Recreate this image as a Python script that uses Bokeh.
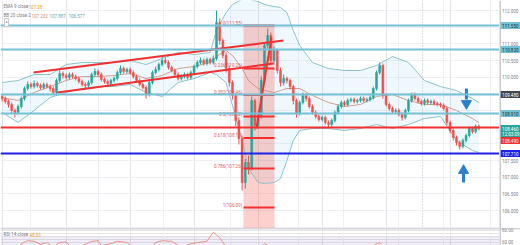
import numpy as np
from bokeh.plotting import figure
from bokeh.models import (Range1d, FixedTicker, Label, Span, BoxAnnotation,
                          ColumnDataSource, Grid)
from bokeh.layouts import column, row
from bokeh.core.properties import value
from bokeh.embed import file_html
from bokeh.resources import INLINE

FONT = "Roboto"
UP, DN = "#26a69a", "#ef5350"

# ---------------- candles (price) ----------------
first_open = 109.42
closes = [109.36, 109.27, 109.18, 109.00, 108.94, 109.12, 109.36, 109.66, 109.78, 109.72,
          109.81, 109.75, 109.69, 109.78, 109.72, 109.66, 109.54, 109.90, 110.11, 110.05,
          109.99, 110.08, 110.02, 109.96, 109.87, 109.78, 109.75, 109.84, 110.08, 110.17,
          110.08, 109.93, 109.87, 109.81, 109.90, 109.96, 110.14, 110.26, 110.17, 110.23,
          110.14, 110.02, 109.90, 109.78, 109.69, 109.48, 109.84, 110.14, 110.23, 110.38,
          110.50, 110.44, 110.29, 110.20, 110.08, 109.96, 110.02, 110.08, 109.99, 110.14,
          110.32, 110.44, 110.50, 110.41, 110.53, 110.44, 110.56, 111.64, 111.10, 110.65,
          110.26, 109.84, 109.45, 108.70, 108.16, 106.84, 107.44, 107.26, 109.30, 108.55,
          108.85, 109.90, 110.95, 111.25, 110.50, 110.80, 110.20, 109.84, 109.96, 109.90,
          109.72, 109.30, 108.91, 109.24, 109.45, 109.36, 109.12, 108.94, 108.82, 108.73,
          108.79, 108.64, 108.58, 108.70, 108.94, 109.12, 109.24, 109.18, 109.30, 109.33,
          109.27, 109.30, 109.36, 109.30, 109.33, 109.39, 109.66, 110.14, 110.35, 109.45,
          109.18, 109.06, 108.97, 109.00, 108.88, 108.79, 109.00, 109.30, 109.48, 109.36,
          109.27, 109.21, 109.30, 109.24, 109.27, 109.21, 109.18, 109.15, 109.06, 108.64,
          108.40, 108.19, 108.04, 107.92, 108.10, 108.25, 108.46, 108.37, 108.52, 108.46]
highs = [109.48, 109.42, 109.33, 109.24, 109.06, 109.18, 109.42, 109.72, 109.87, 109.84,
         109.90, 109.87, 109.81, 109.84, 109.84, 109.78, 109.72, 109.96, 110.20, 110.17,
         110.11, 110.14, 110.14, 110.08, 110.02, 109.93, 109.84, 109.90, 110.14, 110.26,
         110.23, 110.14, 109.99, 109.93, 109.96, 110.02, 110.20, 110.35, 110.32, 110.29,
         110.29, 110.20, 110.08, 109.96, 109.84, 109.75, 109.90, 110.20, 110.32, 110.44,
         110.62, 110.59, 110.50, 110.35, 110.26, 110.14, 110.08, 110.14, 110.14, 110.20,
         110.38, 110.50, 110.59, 110.56, 110.59, 110.59, 110.65, 112.00, 111.76, 111.16,
         110.74, 110.35, 109.90, 109.51, 108.79, 108.25, 107.56, 107.65, 109.42, 109.36,
         109.00, 110.02, 111.04, 111.46, 111.34, 110.92, 110.86, 110.29, 110.08, 110.02,
         109.96, 109.78, 109.36, 109.30, 109.54, 109.51, 109.42, 109.18, 109.00, 108.88,
         108.85, 108.85, 108.70, 108.76, 109.00, 109.18, 109.30, 109.30, 109.36, 109.39,
         109.39, 109.36, 109.42, 109.42, 109.39, 109.45, 109.72, 110.20, 110.44, 110.41,
         109.51, 109.24, 109.12, 109.06, 109.06, 108.94, 109.06, 109.36, 109.54, 109.54,
         109.42, 109.33, 109.36, 109.36, 109.33, 109.33, 109.27, 109.24, 109.21, 109.12,
         108.70, 108.46, 108.25, 108.10, 108.16, 108.31, 108.52, 108.52, 108.58, 108.58]
lows = [109.27, 109.21, 109.09, 108.91, 108.79, 108.88, 109.06, 109.30, 109.60, 109.66,
        109.66, 109.69, 109.63, 109.63, 109.66, 109.57, 109.48, 109.48, 109.84, 109.96,
        109.93, 109.93, 109.96, 109.90, 109.81, 109.72, 109.66, 109.69, 109.78, 110.02,
        110.02, 109.87, 109.81, 109.75, 109.75, 109.84, 109.90, 110.08, 110.11, 110.11,
        110.08, 109.96, 109.84, 109.72, 109.63, 109.36, 109.42, 109.78, 110.08, 110.17,
        110.32, 110.38, 110.23, 110.14, 109.99, 109.90, 109.90, 109.96, 109.93, 109.93,
        110.08, 110.26, 110.38, 110.35, 110.35, 110.38, 110.38, 110.50, 110.98, 110.56,
        110.14, 109.72, 109.33, 108.52, 107.98, 106.60, 106.66, 107.08, 107.20, 108.40,
        108.46, 108.76, 109.81, 110.86, 110.41, 110.38, 110.11, 109.72, 109.75, 109.81,
        109.63, 109.18, 108.79, 108.85, 109.18, 109.27, 109.06, 108.88, 108.76, 108.67,
        108.67, 108.58, 108.49, 108.52, 108.64, 108.88, 109.06, 109.12, 109.12, 109.24,
        109.21, 109.21, 109.24, 109.24, 109.24, 109.27, 109.33, 109.60, 110.08, 109.36,
        109.12, 109.00, 108.91, 108.91, 108.82, 108.70, 108.73, 108.94, 109.24, 109.30,
        109.21, 109.15, 109.15, 109.18, 109.18, 109.15, 109.12, 109.09, 109.00, 108.55,
        108.31, 108.10, 107.95, 107.83, 107.86, 108.04, 108.19, 108.31, 108.31, 108.40]

# ---------------- Bollinger bands ----------------
bb_idx = [0, 5, 10, 15, 20, 25, 30, 35, 40, 45, 50, 55, 60, 65, 67, 70, 72, 75, 77, 80,
          82, 85, 87, 89, 91, 93, 97, 102, 107, 112, 117, 122, 127, 132, 137, 142, 147, 149]
bb_upper = [109.84, 109.90, 110.08, 110.08, 110.38, 110.44, 110.44, 110.44, 110.50, 110.38,
            110.56, 110.74, 110.68, 110.74, 111.40, 111.94, 112.18, 112.34, 112.34, 112.27,
            112.18, 112.12, 112.09, 111.94, 111.40, 110.95, 110.44, 110.26, 110.20, 110.20,
            110.35, 110.62, 110.44, 109.90, 109.72, 109.60, 109.36, 109.24]
bb_basis = [109.39, 109.30, 109.54, 109.72, 109.90, 110.02, 110.02, 110.05, 110.11, 109.96,
            110.05, 110.26, 110.32, 110.44, 110.62, 110.80, 110.65, 110.26, 109.90, 109.66,
            109.60, 109.54, 109.60, 109.66, 109.66, 109.66, 109.45, 109.24, 109.12, 109.18,
            109.42, 109.48, 109.30, 109.18, 109.18, 109.00, 108.76, 108.64]
bb_lower = [108.94, 108.64, 109.00, 109.39, 109.54, 109.66, 109.72, 109.72, 109.78, 109.54,
            109.42, 109.84, 109.96, 110.14, 110.08, 109.84, 109.15, 108.10, 107.26, 106.84,
            106.81, 106.84, 106.96, 107.50, 108.10, 108.40, 108.46, 108.46, 108.40, 108.46,
            108.58, 108.46, 108.58, 108.76, 108.82, 108.10, 107.80, 107.74]

# ---------------- RSI ----------------
rsi_idx = [0, 3, 6, 8, 10, 12, 14, 16, 18, 20, 21, 24, 28, 30, 31, 34, 36, 39, 41, 45,
           48, 50, 53, 56, 59, 61, 64, 66, 68, 71, 74, 77, 80, 82, 85, 90, 96, 103, 107, 112,
           115, 118, 120, 124, 129, 134, 139, 143, 146, 149]
rsi_vals = [50, 40, 58, 63, 62, 57, 60, 52, 60, 61, 55, 52, 62, 63, 55, 58, 62, 60, 52, 38,
            60, 63, 62, 52, 58, 60, 62, 77, 68, 45, 25, 30, 48, 58, 50, 44, 36, 34, 45, 48,
            52, 60, 45, 40, 50, 48, 42, 30, 42, 49]
rsi_ticks = [60, 80]

# ---------------- drawings ----------------
hline_prices = [111.55, 110.83, 109.48, 108.91, 108.49, 107.71]
hline_colors = ["#74c0d4", "#74c0d4", "#74c0d4", "#74c0d4", "#f23030", "#2121e8"]

chan_x0 = [9.81, 17.31, 79.5]
chan_y0 = [110.14, 109.54, 108.46]
chan_x1 = [87.94, 84.81, 84.19]
chan_y1 = [111.10, 110.41, 111.19]

fib_left, fib_right = 75.44, 85.13
fib_high, fib_low = 111.55, 106.09
fib_ratios = [0, 0.236, 0.382, 0.5, 0.618, 0.786, 1]
zone_bottom = 105.0

arrow_x = [145.1, 144.2]
arrow_head_y = [109.21, 107.20]
arrow_tail_y0 = [109.66, 107.12]
arrow_tail_y1 = [109.33, 106.84]
arrow_marker = ["inverted_triangle", "triangle"]

tick_values = [106.0, 106.5, 107.0, 107.5, 110.0, 110.5, 111.0, 112.0]
grid_values = [105.5, 106.0, 106.5, 107.0, 107.5, 108.0, 108.5, 109.0, 109.5, 110.0,
               110.5, 111.0, 111.5, 112.0]
vgrid = [8.9, 30.1, 50.4, 71.4, 92.6, 106.7, 123.9, 137.9, 152.6]
session_break = 131.4

tag_prices = [111.55, 110.83, 109.48, 108.91, 108.46, 108.28, 108.10, 107.71]
tag_texts = ["111.550", "110.830", "109.480", "108.910", "108.460", "12:03:09", "108.490", "107.710"]
tag_bg = ["#74c0d4", "#74c0d4", "#434651", "#74c0d4", "#26a69a", "#26a69a", "#f23030", "#2121e8"]
tag_fg = ["#0b3b45", "#0b3b45", "#ffffff", "#0b3b45", "#ffffff", "#ffffff", "#ffffff", "#ffffff"]

Y_RANGE = (105.46, 112.3)
RSI_RANGE = (55, 83.33)

# ---------------- main price panel ----------------
N = len(closes)
x = list(range(N))
opens = [first_open] + closes[:-1]
colors = [UP if c >= o else DN for o, c in zip(opens, closes)]
src = ColumnDataSource(dict(x=x, h=highs, l=lows,
                            top=[max(o, c) for o, c in zip(opens, closes)],
                            bot=[min(o, c) for o, c in zip(opens, closes)],
                            color=colors))

xr = Range1d(-0.5, 155.44)
yr = Range1d(*Y_RANGE)
p = figure(width=499, height=228, x_range=xr, y_range=yr,
           output_backend="svg", toolbar_location=None,
           x_axis_location=None, y_axis_location=None,
           min_border_left=0, min_border_right=0, min_border_top=0, min_border_bottom=0)
p.outline_line_color = None
p.add_layout(Grid(dimension=0, ticker=FixedTicker(ticks=vgrid), grid_line_color="#eef0f5"))
p.add_layout(Grid(dimension=1, ticker=FixedTicker(ticks=grid_values), grid_line_color="#eef0f5"))

# Bollinger fill + fib zone
p.varea(x=bb_idx, y1=bb_lower, y2=bb_upper, fill_color="#2196f3", fill_alpha=0.07)
p.quad(left=[fib_left], right=[fib_right], top=[fib_high], bottom=[zone_bottom],
       fill_color="#f44336", fill_alpha=0.25, line_color=None)
p.line(bb_idx, bb_upper, line_color="#8cc3cc", line_width=1)
p.line(bb_idx, bb_lower, line_color="#8cc3cc", line_width=1)
p.line(bb_idx, bb_basis, line_color="#c98a6e", line_width=1, line_alpha=0.8)

p.add_layout(Span(location=session_break, dimension="height", line_color="#b8bbc4",
                  line_dash="1 2", line_width=1))

# candles
p.segment("x", "h", "x", "l", color="color", source=src, line_width=1)
p.vbar(x="x", width=0.62, top="top", bottom="bot", fill_color="color", line_color="color",
       line_width=0.5, source=src)

# horizontal lines
for price, col in zip(hline_prices, hline_colors):
    p.add_layout(Span(location=price, dimension="width", line_color=col, line_width=2))

# channel lines
p.segment(chan_x0, chan_y0, chan_x1, chan_y1, line_color="#f23030", line_width=2)

# fib levels
fib_levels = [fib_high - r * (fib_high - fib_low) for r in fib_ratios]
p.segment([fib_left] * len(fib_levels), fib_levels, [fib_right] * len(fib_levels), fib_levels,
          line_color="#f23030", line_width=2)
fib_text = [f"{r:g}({lv:.2f})" for r, lv in zip(fib_ratios, fib_levels)]
p.text([fib_left - 0.4] * len(fib_levels), fib_levels, text=fib_text, text_align="right",
       text_baseline="bottom", text_font=value(FONT), text_font_size=value("4.5px"),
       text_color="#e06060")

# arrows
p.segment(arrow_x, arrow_tail_y0, arrow_x, arrow_tail_y1, line_color="#2a7fd0", line_width=3)
p.scatter(arrow_x, arrow_head_y, marker=arrow_marker, size=10, fill_color="#2a7fd0",
          line_color="#2a7fd0")

# legend texts
legend_items = [
    (3, 222, "EMA 9 close", "#787b86"), (28, 222, "107.38", "#f59a23"),
    (3, 213, "BB 20 close 2", "#787b86"), (31, 213, "107.232", "#c98a6e"),
    (49, 213, "107.887", "#5fa8b0"), (68, 213, "106.577", "#5fa8b0"),
]
for lx, ly, t, c in legend_items:
    p.add_layout(Label(x=lx, y=ly, x_units="screen", y_units="screen", text=t,
                       text_font=FONT, text_font_size="4.5px", text_color=c,
                       text_baseline="middle"))
p.add_layout(Label(x=4, y=206, x_units="screen", y_units="screen", text="^",
                   text_font=FONT, text_font_size="5px", text_color="#555",
                   text_baseline="middle", border_line_color="#c8cad2",
                   background_fill_color="#ffffff", padding=1))

# ---------------- price scale (right) ----------------
ps = figure(width=21, height=228, x_range=Range1d(0, 21), y_range=yr,
            output_backend="svg", toolbar_location=None,
            x_axis_location=None, y_axis_location=None,
            min_border_left=0, min_border_right=0, min_border_top=0, min_border_bottom=0)
ps.outline_line_color = None
ps.grid.visible = False
ps.add_layout(Span(location=0.5, dimension="height", line_color="#9598a1", line_width=1))
ps.text([2.5] * len(tick_values), tick_values, text=[f"{v:.3f}" for v in tick_values],
        text_baseline="middle", text_align="left", text_font=value(FONT),
        text_font_size=value("4.5px"), text_color="#7b7e88")
ps.rect([10.8] * len(tag_prices), tag_prices, width=19.5, height=7,
        width_units="screen", height_units="screen", fill_color=tag_bg, line_color=None)
ps.text([2.6] * len(tag_prices), tag_prices, text=tag_texts, text_baseline="middle",
        text_align="left", text_font=value(FONT), text_font_size=value("4.5px"),
        text_color=tag_fg)

# ---------------- RSI panel ----------------
rr = Range1d(*RSI_RANGE)
r = figure(width=499, height=17, x_range=xr, y_range=rr,
           output_backend="svg", toolbar_location=None,
           x_axis_location=None, y_axis_location=None,
           min_border_left=0, min_border_right=0, min_border_top=0, min_border_bottom=0)
r.outline_line_color = None
r.add_layout(Grid(dimension=0, ticker=FixedTicker(ticks=vgrid), grid_line_color="#eef0f5"))
r.add_layout(BoxAnnotation(bottom=30, top=70, fill_color="#7e57c2", fill_alpha=0.1, line_color=None))
r.line(rsi_idx, rsi_vals, line_color="#ef9a88", line_width=1)
r.add_layout(Span(location=83.0, dimension="width", line_color="#9598a1", line_width=1))
r.add_layout(Label(x=3, y=11, x_units="screen", y_units="screen", text="RSI 14 close",
                   text_font=FONT, text_font_size="4.5px", text_color="#787b86",
                   text_baseline="middle"))
r.add_layout(Label(x=29, y=11, x_units="screen", y_units="screen", text="48.93",
                   text_font=FONT, text_font_size="4.5px", text_color="#f59a23",
                   text_baseline="middle"))

rs = figure(width=21, height=17, x_range=Range1d(0, 21), y_range=rr,
            output_backend="svg", toolbar_location=None,
            x_axis_location=None, y_axis_location=None,
            min_border_left=0, min_border_right=0, min_border_top=0, min_border_bottom=0)
rs.outline_line_color = None
rs.grid.visible = False
rs.add_layout(Span(location=0.5, dimension="height", line_color="#9598a1", line_width=1))
rs.add_layout(Span(location=83.0, dimension="width", line_color="#9598a1", line_width=1))
rs.text([2.5] * len(rsi_ticks), rsi_ticks, text=[f"{v:.2f}" for v in rsi_ticks],
        text_baseline="middle", text_align="left", text_font=value(FONT),
        text_font_size=value("4.5px"), text_color="#7b7e88")

layout = column(row(p, ps, spacing=0), row(r, rs, spacing=0), spacing=0)
open("out.html", "w").write(file_html(layout, INLINE))
